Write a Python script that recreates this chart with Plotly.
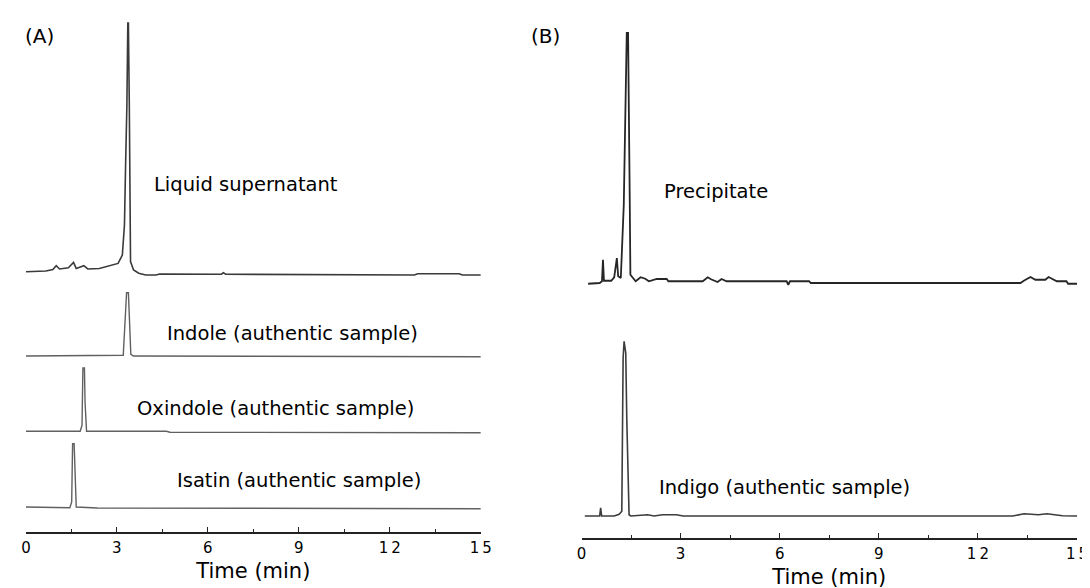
import plotly.graph_objects as go

# ---------------- Data (retention time in min, detector signal in arbitrary units) ----------------
# Panel A
sup_t = [0.0, 0.66, 0.89, 1.00, 1.11, 1.40, 1.57, 1.66, 1.91, 2.04, 2.42, 2.82, 3.04, 3.18, 3.25,
         3.29, 3.33, 3.36, 3.38, 3.41, 3.43, 3.45, 3.55, 3.72, 3.95, 4.29, 4.41, 5.09, 6.45, 6.51,
         6.59, 12.81, 12.92, 14.28, 14.40, 15.0]
sup_v = [13, 16, 22, 37, 24, 29, 50, 26, 37, 24, 26, 37, 46, 79, 199,
         450, 675, 1000, 1000, 675, 311, 53, 20, 7, 0, 0, 4, 3, 3, 9,
         3, 0, 5, 5, 0, 0]

ind_t = [0.0, 3.21, 3.27, 3.32, 3.38, 3.42, 3.46, 3.55, 15.0]
ind_v = [0, 3, 139, 251, 251, 139, 7, 0, -3]

oxi_t = [0.0, 1.79, 1.85, 1.88, 1.93, 1.95, 2.00, 4.63, 4.75, 15.0]
oxi_v = [3, 3, 26, 254, 254, 119, 3, 3, -1, -3]

isa_t = [0.0, 0.77, 1.45, 1.51, 1.54, 1.59, 1.62, 1.66, 2.36, 10.08, 15.0]
isa_v = [4, 3, 1, 24, 255, 255, 90, 4, 0, -1, -3]

# Panel B
pre_t = [0.20, 0.55, 0.62, 0.65, 0.68, 0.90, 0.99, 1.07, 1.11, 1.19, 1.28, 1.33, 1.37, 1.41,
         1.44, 1.46, 1.48, 1.64, 1.79, 1.93, 2.04, 2.28, 2.58, 2.63, 3.67, 3.82, 3.92, 4.12,
         4.24, 4.39, 6.21, 6.26, 6.31, 6.89, 6.94, 13.29, 13.39, 13.59, 13.74, 14.04, 14.14,
         14.39, 14.68, 14.73, 15.0]
pre_v = [-3, 0, 7, 93, 9, 9, 23, 100, 27, 20, 313, 713, 1000, 1000,
         713, 340, 33, 7, 23, 17, 7, 16, 16, 7, 7, 23, 15, 4,
         16, 7, 7, -7, 7, 7, 0, 0, 9, 24, 13, 13, 24,
         7, 7, -3, -3]

indg_t = [0.10, 0.55, 0.58, 0.61, 0.99, 1.14, 1.22, 1.26, 1.29, 1.34, 1.37, 1.41, 1.44, 1.49,
          2.00, 2.20, 2.45, 2.87, 3.08, 13.05, 13.40, 13.83, 14.09, 14.56, 15.0]
indg_v = [0, 0, 33, 0, 0, 7, 19, 632, 699, 652, 392, 132, 5, 0,
          5, 0, 5, 5, 0, 0, 9, 5, 9, 1, 0]

x_ticks = [0, 3, 6, 9, 12, 15]
x_ticktext = ["0", "3", "6", "9", "1\u20092", "1\u20095"]

labels_A = ["Liquid supernatant", "Indole (authentic sample)",
            "Oxindole (authentic sample)", "Isatin (authentic sample)"]
labels_B = ["Precipitate", "Indigo (authentic sample)"]

# ---------------- Layout helpers (pixel geometry of the page) ----------------
W, H = 1090, 588
FONT = "DejaVu Sans, Arial, sans-serif"


def fy(p):
    return 1 - p / H


def fx(p):
    return p / W


def ydomain(base_px, k, lo, hi):
    return [fy(base_px - lo * k), fy(base_px - hi * k)]


fig = go.Figure()

series_A = [
    (sup_t, sup_v, "#3a3a3a", 1.6, 267, 1000),
    (ind_t, ind_v, "#606060", 1.4, 348, 251),
    (oxi_t, oxi_v, "#606060", 1.4, 424, 254),
    (isa_t, isa_v, "#606060", 1.4, 500, 255),
]
series_B = [
    (pre_t, pre_v, "#262626", 1.8, 275, 1000),
    (indg_t, indg_v, "#3c3c3c", 1.6, 508, 703),
]

kA = 0.252
kB = 0.25
layout_axes = {}
n = 0
for (t, v, col, lw, base, peak), name in zip(series_A, labels_A):
    n += 1
    yname = "y" if n == 1 else f"y{n}"
    fig.add_trace(go.Scatter(x=t, y=v, mode="lines", name=name, xaxis="x", yaxis=yname,
                             line=dict(color=col, width=lw), hoverinfo="skip"))
    layout_axes["yaxis" if n == 1 else f"yaxis{n}"] = dict(
        domain=ydomain(base, kA, -40, peak + 20), range=[-40, peak + 20],
        visible=False, anchor="x", fixedrange=True)

for (t, v, col, lw, base, peak), name in zip(series_B, labels_B):
    n += 1
    yname = f"y{n}"
    fig.add_trace(go.Scatter(x=t, y=v, mode="lines", name=name, xaxis="x2", yaxis=yname,
                             line=dict(color=col, width=lw), hoverinfo="skip"))
    layout_axes[f"yaxis{n}"] = dict(
        domain=ydomain(base, kB, -40, peak + 20), range=[-40, peak + 20],
        visible=False, anchor="x2", fixedrange=True)

xcommon = dict(
    range=[0, 15], tickvals=x_ticks, ticktext=x_ticktext,
    ticks="inside", ticklen=5, tickwidth=1.3, tickcolor="#222",
    minor=dict(dtick=1.5, tick0=0, ticks="inside", ticklen=3, tickwidth=1.2, tickcolor="#222"),
    showline=True, linecolor="#222", linewidth=1.5,
    showgrid=False, zeroline=False, anchor="free",
    tickfont=dict(family=FONT, size=15, color="black"),
    ticklabelstandoff=1,
    title=dict(text="Time (min)", font=dict(family=FONT, size=21, color="black"), standoff=7),
    fixedrange=True, automargin=False,
)

fig.update_layout(
    width=W, height=H,
    margin=dict(l=0, r=0, t=0, b=0),
    paper_bgcolor="white", plot_bgcolor="rgba(0,0,0,0)",
    showlegend=False,
    xaxis=dict(xcommon, domain=[fx(17.9), fx(472.8)], position=fy(525)),
    xaxis2=dict(xcommon, domain=[fx(573.5), fx(1069)], position=fy(531)),
    **layout_axes,
)

ann_font = dict(family=FONT, size=19.5, color="black")
anns = [
    dict(text="(A)", x=fx(16), y=fy(28), xref="paper", yref="paper", xanchor="left",
         font=dict(family=FONT, size=20, color="black")),
    dict(text="(B)", x=fx(522), y=fy(28), xref="paper", yref="paper", xanchor="left",
         font=dict(family=FONT, size=20, color="black")),
    dict(text=labels_A[0], x=4.18, y=fy(177), xref="x", yref="paper", xanchor="left"),
    dict(text=labels_A[1], x=4.63, y=fy(325), xref="x", yref="paper", xanchor="left"),
    dict(text=labels_A[2], x=3.64, y=fy(400), xref="x", yref="paper", xanchor="left"),
    dict(text=labels_A[3], x=4.94, y=fy(473), xref="x", yref="paper", xanchor="left"),
    dict(text=labels_B[0], x=2.48, y=fy(183), xref="x2", yref="paper", xanchor="left"),
    dict(text=labels_B[1], x=2.33, y=fy(479), xref="x2", yref="paper", xanchor="left"),
]
for a in anns:
    a.setdefault("font", ann_font)
    a.update(showarrow=False, yanchor="middle", borderpad=0)
fig.update_layout(annotations=anns)

fig.write_html("out.html")
